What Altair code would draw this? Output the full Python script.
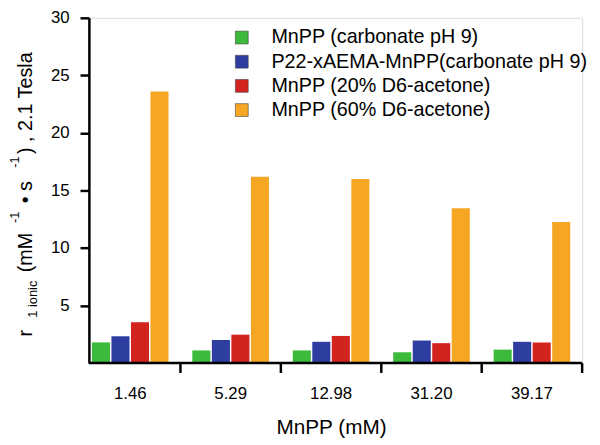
import altair as alt
import pandas as pd

categories = ["1.46", "5.29", "12.98", "31.20", "39.17"]
series = [
    "MnPP (carbonate pH 9)",
    "P22-xAEMA-MnPP(carbonate pH 9)",
    "MnPP (20% D6-acetone)",
    "MnPP (60% D6-acetone)",
]
green_vals = [1.80, 1.10, 1.10, 0.94, 1.17]
blue_vals = [2.33, 2.00, 1.85, 1.96, 1.85]
red_vals = [3.55, 2.47, 2.36, 1.73, 1.79]
orange_vals = [23.6, 16.2, 16.0, 13.45, 12.25]
colors = ["#3cba3c", "#2d3da0", "#d2231f", "#f5a623"]
y_ticks = [5, 10, 15, 20, 25, 30]

rows = []
for s, vals in zip(series, [green_vals, blue_vals, red_vals, orange_vals]):
    for c, v in zip(categories, vals):
        rows.append({"cat": c, "series": s, "value": v})
df = pd.DataFrame(rows)
cat_df = pd.DataFrame({"cat": categories})
one = pd.DataFrame({"a": [0]})

FONT = "Liberation Sans"
W, H = 500, 350
TOP = 15  # page y of the plot's top edge

x_axis = alt.Axis(
    title="MnPP (mM)", domain=False, ticks=False, labelAngle=0,
    labelFontSize=17, labelPadding=23, labelColor="black", labelFont=FONT,
    titleFontSize=21, titleFont=FONT, titleFontWeight="normal",
    titleColor="black", titlePadding=15,
)
x_scale = alt.Scale(range=[-9, W], paddingInner=0, paddingOuter=0)

bars = alt.Chart(df).mark_bar().encode(
    x=alt.X("cat:N", sort=categories, scale=x_scale, axis=x_axis),
    xOffset=alt.XOffset("series:N", sort=series,
                        scale=alt.Scale(paddingInner=0.075, paddingOuter=0.61)),
    y=alt.Y("value:Q", scale=alt.Scale(domain=[0, 30]),
            axis=alt.Axis(title=None, values=y_ticks, grid=False,
                          domainWidth=2.5, domainColor="black",
                          tickWidth=2.5, tickColor="black", tickSize=9,
                          labelFontSize=17, labelFont=FONT, labelColor="black",
                          labelPadding=11)),
    color=alt.Color("series:N", sort=series,
                    scale=alt.Scale(domain=series, range=colors),
                    legend=alt.Legend(title=None, orient="none", legendX=145,
                                      legendY=10, labelFontSize=20, labelFont=FONT,
                                      labelColor="black", symbolType="square",
                                      symbolSize=169, symbolStrokeWidth=0.6,
                                      symbolStrokeColor="#444444", labelLimit=0,
                                      labelOffset=20, rowPadding=4.5, padding=0)),
)

baseline = alt.Chart(one).mark_rule(color="black", strokeWidth=2.5).encode(
    x=alt.value(0), x2=alt.value(W), y=alt.datum(0)
)

xticks = alt.Chart(cat_df).mark_rule(color="black", strokeWidth=2.5).encode(
    x=alt.X("cat:N", sort=categories, bandPosition=1, scale=x_scale, axis=x_axis),
    y=alt.value(H), y2=alt.value(H + 10),
)

# y-axis title built from pieces (sub/superscripts)
def ttext(txt, size, x, y):
    return alt.Chart(one).mark_text(
        text=txt, angle=270, align="left", baseline="alphabetic",
        fontSize=size, font=FONT, color="black"
    ).encode(x=alt.value(x), y=alt.value(y))

title_parts = [
    ttext("r", 20, -58, 338 - TOP),
    ttext("1 ionic", 13, -53, 319 - TOP),
    ttext("(mM", 20, -58, 273 - TOP),
    ttext("-1", 13, -71, 223 - TOP),
    ttext("\u2022 s", 20, -58, 203 - TOP),
    ttext("-1", 13, -71, 167 - TOP),
    ttext(") , 2.1 Tesla", 20, -58, 153 - TOP),
]

chart = alt.layer(bars, baseline, xticks, *title_parts).properties(
    width=W, height=H,
    autosize=alt.AutoSizeParams(type="none"),
    padding={"left": 82, "top": TOP - 8, "right": 10, "bottom": 75},
).configure_view(stroke=None).configure(font=FONT)

chart.save("out.html", embed_options={"renderer": "svg", "actions": False})
